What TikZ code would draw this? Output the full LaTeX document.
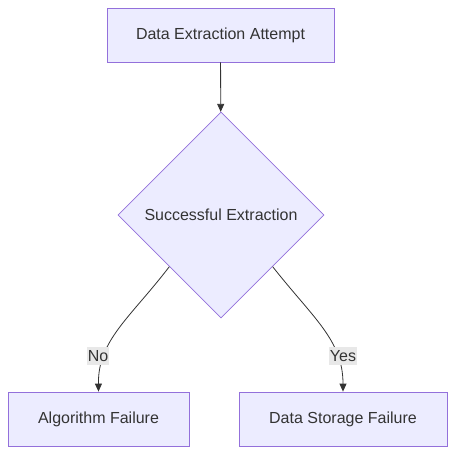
\documentclass[tikz,border=0pt]{standalone}
\usepackage{fontspec}
\setmainfont{Liberation Sans}
\usepackage{tikz}
\usetikzlibrary{shapes.geometric,arrows.meta}
\definecolor{boxfill}{HTML}{ECECFF}
\definecolor{boxline}{HTML}{9370DB}
\definecolor{ink}{HTML}{333333}
\definecolor{lblfill}{HTML}{E8E8E8}

\begin{document}
\begin{tikzpicture}[x=1pt,y=-1pt,
    every node/.style={text=ink,font=\fontsize{16}{19}\selectfont},
    proc/.style={draw=boxline,fill=boxfill,line width=0.8pt,minimum height=54pt,inner sep=0pt},
    cond/.style={diamond,draw=boxline,fill=boxfill,line width=0.8pt,minimum width=206pt,minimum height=206pt,inner sep=0pt},
    lbl/.style={fill=lblfill,inner xsep=1pt,inner ysep=3.5pt},
    link/.style={draw=ink,line width=0.8pt,-{Triangle[length=8pt,width=7pt]}}]
    \useasboundingbox (0,0) rectangle (455,455);
    \node[proc,minimum width=227pt] (try) at (220.5,35) {Data Extraction Attempt};
    \node[cond] (ok) at (221,215) {Successful Extraction};
    \node[proc,minimum width=181pt] (algo) at (98.5,419) {Algorithm Failure};
    \node[proc,minimum width=208pt] (store) at (343,419) {Data Storage Failure};
    \draw[link] (try) -- (ok);
    \draw[link] (ok.south west) .. controls (130,318) and (98,340) .. (algo.north);
    \draw[link] (ok.south east) .. controls (313,318) and (343,340) .. (store.north);
    \node[lbl] (no) at (98,356) {No};
    \node[lbl] (yes) at (343,356) {Yes};
\end{tikzpicture}
\end{document}
